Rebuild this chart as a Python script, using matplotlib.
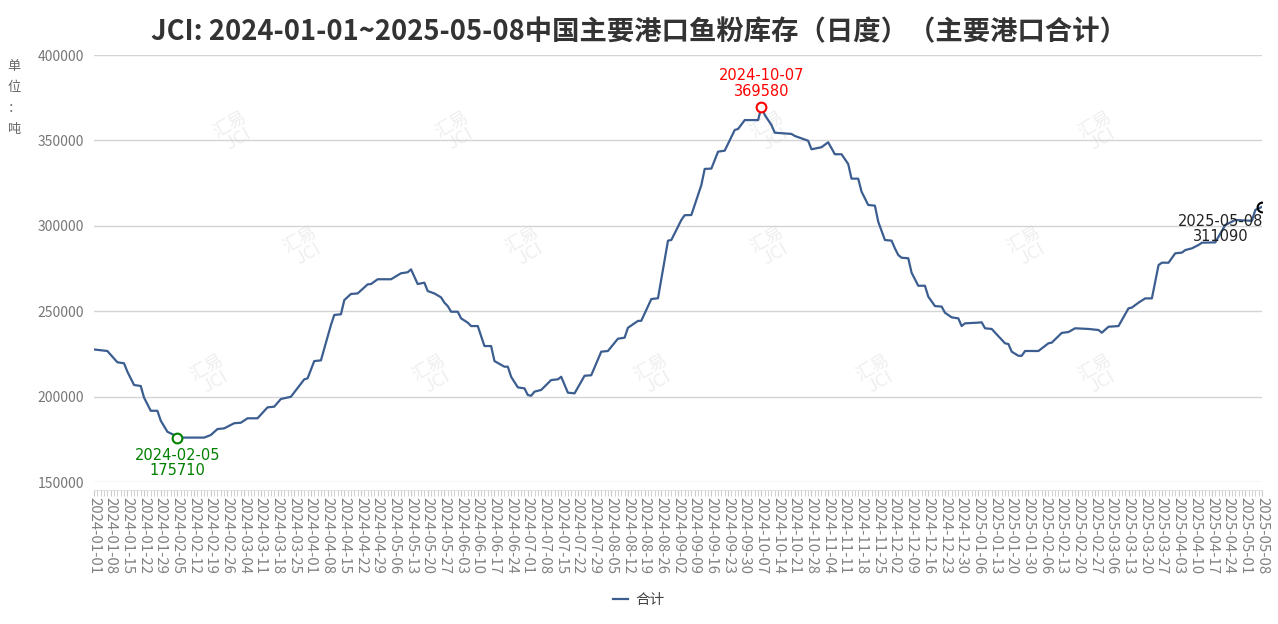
import numpy as np
import matplotlib.pyplot as plt

plt.rcParams['font.family'] = ['Noto Sans CJK SC', 'DejaVu Sans']

# tick labels, one every 5 data points
dates = ['2024-01-01', '2024-01-08', '2024-01-15', '2024-01-22', '2024-01-29', '2024-02-05',
         '2024-02-12', '2024-02-19', '2024-02-26', '2024-03-04', '2024-03-11', '2024-03-18',
         '2024-03-25', '2024-04-01', '2024-04-08', '2024-04-15', '2024-04-22', '2024-04-29',
         '2024-05-06', '2024-05-13', '2024-05-20', '2024-05-27', '2024-06-03', '2024-06-10',
         '2024-06-17', '2024-06-24', '2024-07-01', '2024-07-08', '2024-07-15', '2024-07-22',
         '2024-07-29', '2024-08-05', '2024-08-12', '2024-08-19', '2024-08-26', '2024-09-02',
         '2024-09-09', '2024-09-16', '2024-09-23', '2024-09-30', '2024-10-07', '2024-10-14',
         '2024-10-21', '2024-10-28', '2024-11-04', '2024-11-11', '2024-11-18', '2024-11-25',
         '2024-12-02', '2024-12-09', '2024-12-16', '2024-12-23', '2024-12-30', '2025-01-06',
         '2025-01-13', '2025-01-20', '2025-01-30', '2025-02-06', '2025-02-13', '2025-02-20',
         '2025-02-27', '2025-03-06', '2025-03-13', '2025-03-20', '2025-03-27', '2025-04-03',
         '2025-04-10', '2025-04-17', '2025-04-24', '2025-05-01', '2025-05-08']

# day number (data point index) and stock in tonnes
day = [0, 4, 7, 9, 10, 12, 14, 15, 17, 19, 20, 22, 24, 25, 27, 33, 35, 37, 39, 42,
       44, 46, 49, 52, 54, 56, 59, 63, 64, 66, 68, 71, 72, 74, 75, 77, 79, 82, 83, 85,
       89, 92, 94, 95, 97, 99, 100, 102, 104, 105, 106, 107, 109, 110, 112, 113, 115, 117, 119, 120,
       123, 124, 125, 127, 129, 130, 131, 132, 134, 137, 139, 140, 142, 144, 147, 149, 152, 154, 157, 159,
       160, 163, 164, 167, 169, 172, 173, 176, 177, 179, 182, 183, 185, 187, 189, 192, 193, 195, 199, 200,
       201, 203, 204, 209, 210, 212, 214, 215, 218, 220, 222, 224, 226, 227, 229, 230, 232, 234, 235, 237,
       239, 240, 241, 242, 244, 245, 247, 249, 250, 252, 254, 255, 257, 259, 260, 261, 265, 266, 267, 269,
       273, 274, 275, 277, 278, 279, 283, 286, 287, 290, 292, 294, 298, 301, 302, 304, 307, 310, 311, 313,
       315, 317, 319, 320, 322, 324, 326, 327, 329, 331, 332, 336, 339, 342, 346, 347, 348, 350]
stock = [227600, 226700, 220100, 219500, 214600, 206800, 206200, 199400, 191700, 191700,
         185900, 179400, 177500, 175710, 176000, 176000, 177500, 181000, 181400, 184400,
         184700, 187300, 187300, 193700, 194100, 198600, 199900, 210100, 210700, 220800,
         221200, 241900, 247800, 248200, 256500, 260100, 260400, 265700, 265900, 268700,
         268700, 272200, 272800, 274500, 265900, 266700, 261800, 260400, 258100, 255000,
         253000, 249700, 249700, 245800, 243300, 241300, 241300, 229600, 229600, 220800,
         217500, 217500, 211600, 205400, 204800, 200900, 200500, 202900, 203900, 209700,
         210100, 211600, 202300, 201900, 212200, 212500, 226300, 226700, 233900, 234500,
         240300, 244300, 244400, 257100, 257600, 291300, 291700, 303400, 306200, 306300,
         323900, 333300, 333500, 343400, 344000, 356100, 356700, 361900, 361900, 369580,
         364900, 359000, 354500, 353800, 352600, 351200, 349800, 344800, 346000, 348900,
         341900, 341900, 336200, 327600, 327600, 320000, 312200, 311800, 302400, 291700,
         291300, 286800, 282900, 281300, 281000, 272500, 264900, 264900, 258500, 253000,
         252700, 249100, 246400, 245800, 241300, 242900, 243300, 243500, 240000, 239600,
         231200, 230800, 226300, 223900, 223900, 226700, 226700, 231200, 231600, 237300,
         237800, 240000, 239600, 239000, 237400, 240900, 241300, 251700, 252100, 255000,
         257500, 257500, 277000, 278400, 278400, 283900, 284300, 285800, 286800, 288800,
         290100, 290300, 300500, 303400, 303000, 303000, 309300, 311090]

n_days = 351
fig = plt.figure(figsize=(12.78, 6.24), dpi=100)
ax = fig.add_axes([94 / 1278, 1 - 482 / 624, (1262 - 94) / 1278, (482 - 55) / 624])

# faint watermarks
for wx, wy in [(0.12, 0.82), (0.31, 0.82), (0.58, 0.82), (0.86, 0.82),
               (0.18, 0.55), (0.37, 0.55), (0.58, 0.55), (0.80, 0.55),
               (0.10, 0.25), (0.29, 0.25), (0.48, 0.25), (0.67, 0.25), (0.86, 0.25)]:
    ax.text(wx, wy, '汇易\nJCI', transform=ax.transAxes, rotation=30, fontsize=13,
            color='#efefef', ha='center', va='center', zorder=0, linespacing=0.9)

ax.plot(day, stock, color='#3b5d8f', lw=1.6, label='合计', zorder=3)

i_min = int(np.argmin(stock))
i_max = int(np.argmax(stock))
ax.plot(day[i_min], stock[i_min], 'o', mfc='white', mec='green', mew=1.5, ms=7, zorder=4)
ax.annotate(dates[day[i_min] // 5] + '\n' + str(stock[i_min]), (day[i_min], stock[i_min]),
            xytext=(0, -7), textcoords='offset points', ha='center', va='top',
            color='green', fontsize=10.5, family='DejaVu Sans', linespacing=1.05)
ax.plot(day[i_max], stock[i_max], 'o', mfc='white', mec='red', mew=1.5, ms=7, zorder=4)
ax.annotate(dates[day[i_max] // 5] + '\n' + str(stock[i_max]), (day[i_max], stock[i_max]),
            xytext=(0, 6), textcoords='offset points', ha='center', va='bottom',
            color='red', fontsize=10.5, family='DejaVu Sans', linespacing=1.05)
ax.plot(day[-1], stock[-1], 'o', mfc='none', mec='black', mew=1.5, ms=7, zorder=4)
ax.annotate(dates[-1] + '\n' + str(stock[-1]), (day[-1], stock[-1]),
            xytext=(-30, -16), textcoords='offset points', ha='center', va='center',
            color='#222222', fontsize=10.5, family='DejaVu Sans', linespacing=1.0,
            annotation_clip=False, zorder=5)

ax.set_xlim(0, n_days - 1)
ax.set_ylim(150000, 400000)
ax.set_yticks(np.arange(150000, 400001, 50000))
ax.set_xticks(np.arange(0, n_days, 5))
ax.set_xticklabels(dates)
ax.set_xticks(np.arange(0, n_days), minor=True)
ax.grid(axis='y', color='#d4d4d4', lw=1)
ax.set_axisbelow(True)
ax.tick_params(axis='y', length=0, pad=7, labelsize=10, labelcolor='#777777')
ax.tick_params(axis='x', which='both', direction='out', length=4, color='#c8c8c8', pad=1)
ax.tick_params(axis='x', labelrotation=-90, labelsize=10.8, labelcolor='#808080')
for s in ['top', 'right', 'left']:
    ax.spines[s].set_visible(False)
ax.spines['bottom'].set_position(('outward', 6))
ax.spines['bottom'].set_color('#e0e0e0')

fig.text(0.5, 1 - 32 / 624, 'JCI: 2024-01-01~2025-05-08中国主要港口鱼粉库存（日度）（主要港口合计）',
         ha='center', va='center', fontsize=19.7, fontweight='bold', color='#333333')
fig.text(14 / 1278, 1 - 98 / 624, '单\n位\n：\n吨', ha='center', va='center', fontsize=9.5,
         color='#666666', linespacing=1.8)

fig.legend(loc='center', bbox_to_anchor=(0.5, 1 - 600 / 624), frameon=False,
           handlelength=1.0, handletextpad=0.5, fontsize=10.5, labelcolor='#444444')

plt.savefig('out.png', dpi=100)
